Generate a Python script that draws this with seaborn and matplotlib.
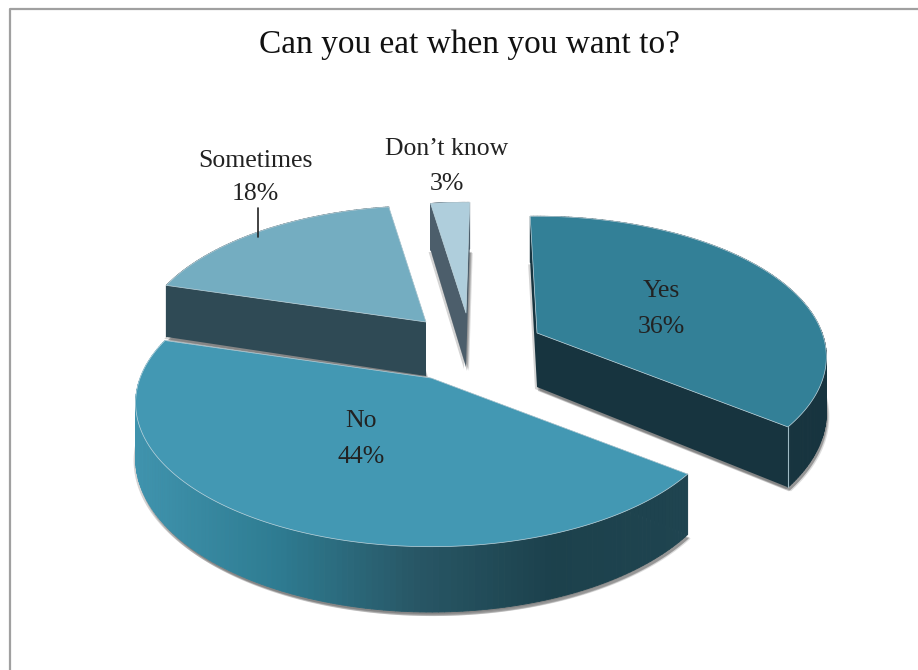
"""3D exploded pie: Can you eat when you want to?"""
import numpy as np
import matplotlib
matplotlib.use("Agg")
import matplotlib.pyplot as plt
from matplotlib.collections import PolyCollection
import seaborn as sns

# ── DATA ──────────────────────────────────────────────────────────────────────
TITLE = "Can you eat when you want to?"
categories = ["Yes", "No", "Sometimes", "Don\u2019t know"]
pct_labels = ["36%", "44%", "18%", "3%"]
# slice sizes as drawn in the picture (percent of the full circle)
shares = [36, 44, 18, 2.7]

# ── LAYOUT / STYLE (pixels, y down) ───────────────────────────────────────────
apex = [(537, 333), (431, 378), (426, 322), (466, 313)]
radius = [0.99, 1.01, 0.985, 0.93]
name_y = [291, 421, 161, 149]
pct_y = [327, 457, 194, 184]
label_x = [661, 361, 255, 447]
top_cols = ["#338097", "#4398B3", "#74ADC1", "#AFCEDC"]
face_cols = ["#17343F", "#17343F", "#2F4A55", "#4C5E6B"]
RX, RY, PERSP, DEPTH = 288, 138, 0.172, 54
START_DEG = -1.6
no_ramp = ["#3F93AD", "#2E7C92", "#285766", "#1C414C", "#1F4450"]

sns.set_theme(style="white")
plt.rcParams["font.family"] = ["Liberation Serif", "DejaVu Serif"]


def project(theta, r, centre, drop=0.0):
    """theta clockwise from 12 o'clock (radians), r 0..1, drop = depth below top"""
    u = r * np.sin(theta)
    v = r * np.cos(theta)
    scale = 1 / (1 + PERSP * v)
    x = centre[0] + RX * u * scale
    y = centre[1] - RY * v * scale + drop * scale
    return np.column_stack([np.atleast_1d(x), np.atleast_1d(y)])


fig = plt.figure(figsize=(9.18, 6.70), dpi=100, facecolor="white")
ax = fig.add_axes([0, 0, 1, 1])
ax.set_xlim(0, 918)
ax.set_ylim(670, 0)
ax.axis("off")

# frame of the original chart area
ax.plot([10, 10, 918], [670, 9, 9], color="#A0A0A0", lw=1.6, zorder=1)

# ── WEDGES ────────────────────────────────────────────────────────────────────
edges = np.radians(START_DEG + np.cumsum([0] + shares) * 3.6)
ramp = sns.blend_palette(no_ramp, 256)

# back to front, so the No wedge lies over the foot of Sometimes
for z, i in enumerate([3, 2, 0, 1]):
    c = apex[i]
    base = 10 + z * 10
    thetas = np.linspace(edges[i], edges[i + 1], 160)
    rim_top = project(thetas, radius[i], c)
    rim_low = project(thetas, radius[i], c, DEPTH)
    a_top = project(0.0, 0, c)
    a_low = project(0.0, 0, c, DEPTH)
    top = np.vstack([a_top, rim_top])
    low = np.vstack([a_low, rim_low])

    # soft drop shadow under the body
    for dx, dy, alpha in [(3, 4, 0.2), (2, 3, 0.3), (-2, 2, 0.25), (1, 4, 0.3)]:
        ax.fill(low[:, 0] + dx, low[:, 1] + dy, color="#555555", alpha=alpha,
                lw=0, zorder=base)

    # the two cut faces
    for rim_t, rim_l in [(rim_top[0], rim_low[0]), (rim_top[-1], rim_low[-1])]:
        face = np.vstack([a_top, rim_t, rim_l, a_low])
        ax.fill(face[:, 0], face[:, 1], color=face_cols[i], lw=0, zorder=base + 1)

    # outer skin, band by band
    quads = [np.vstack([rim_top[k], rim_top[k + 1], rim_low[k + 1], rim_low[k]])
             for k in range(len(thetas) - 1)]
    if categories[i] == "No":
        pos = np.clip((rim_top[:-1, 0] - 140) / 550, 0, 1)
        cols = [ramp[int(p * 255)] for p in pos]
    else:
        cols = [face_cols[i]] * len(quads)
    ax.add_collection(PolyCollection(quads, facecolors=cols, edgecolors=cols,
                                     linewidths=0.6, zorder=base + 2))

    # top surface with its pale edge highlight
    ax.fill(top[:, 0], top[:, 1], facecolor=top_cols[i], edgecolor="#BFD6DF",
            lw=0.5, zorder=base + 3, joinstyle="round")

    if categories[i] == "Yes":
        ax.plot([rim_top[-1, 0], rim_low[-1, 0]], [rim_top[-1, 1], rim_low[-1, 1]],
                color="#9FBAC4", lw=0.8, zorder=base + 3)

# ── TEXT ──────────────────────────────────────────────────────────────────────
ax.text(469, 45, TITLE, ha="center", va="center", fontsize=24, color="#111111", zorder=80)
for name, pct, x, y1, y2 in zip(categories, pct_labels, label_x, name_y, pct_y):
    ax.text(x, y1, name, ha="center", va="center", fontsize=18.5, color="#222222", zorder=80)
    ax.text(x, y2, pct, ha="center", va="center", fontsize=18.5, color="#222222", zorder=80)
ax.plot([258, 258], [208, 237], color="#222222", lw=1.2, zorder=80)

fig.savefig("out.png", dpi=100)
